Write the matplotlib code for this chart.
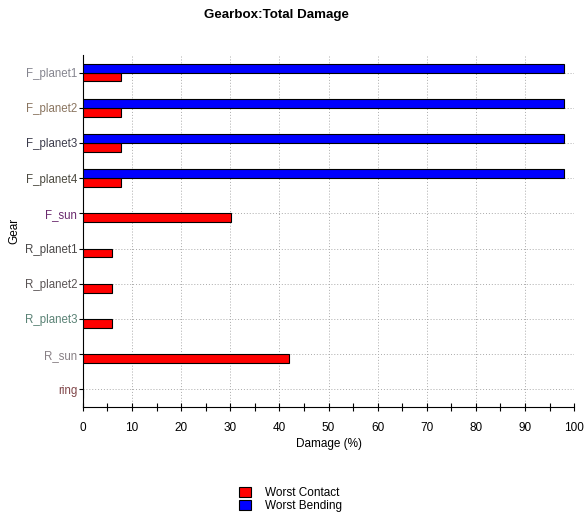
import matplotlib

matplotlib.use("Agg")
import matplotlib.pyplot as plt
from matplotlib.patches import Patch
from matplotlib.ticker import MultipleLocator

gears = ["F_planet1", "F_planet2", "F_planet3", "F_planet4", "F_sun",
         "R_planet1", "R_planet2", "R_planet3", "R_sun", "ring"]
worst_contact = [7.8, 7.8, 7.8, 7.8, 30.2, 5.9, 5.9, 5.9, 42.0, 0.0]
worst_bending = [98.0, 98.0, 98.0, 98.0, 0.0, 0.0, 0.0, 0.0, 0.0, 0.0]
label_colors = ["#85858f", "#8a7560", "#3c3c4c", "#4c4a40", "#6a2a6e",
                "#4a4848", "#5a5455", "#5a8275", "#888085", "#804548"]

plt.rcParams["font.family"] = ["Liberation Sans", "DejaVu Sans"]

fig = plt.figure(figsize=(5.84, 5.2), dpi=100)
ax = fig.add_axes([0.142, 0.2173, 0.841, 0.677])

pos = list(range(len(gears)))
bar_h = 0.25
ax.barh(pos, worst_contact, height=bar_h, align="edge", color="#ff0000",
        edgecolor="black", linewidth=0.8, zorder=3)
for y, v in zip(pos, worst_bending):
    if v > 0:
        ax.barh(y, v, height=-bar_h, align="edge", color="#0000ff",
                edgecolor="black", linewidth=0.8, zorder=3)

ax.set_xlim(0, 100)
ax.set_ylim(len(gears) - 0.5, -0.5)
ax.set_yticks(pos)
ax.set_yticklabels(gears, fontsize=8.3)
for lbl, c in zip(ax.get_yticklabels(), label_colors):
    lbl.set_color(c)

ax.xaxis.set_major_locator(MultipleLocator(10))
ax.xaxis.set_minor_locator(MultipleLocator(5))
ax.tick_params(axis="x", which="both", direction="inout", length=6,
               width=0.8, labelsize=8.5, pad=8)
ax.tick_params(axis="y", direction="out", length=3, width=0.8, pad=1)

ax.grid(True, which="major", color="#aaaaaa", linestyle=(0, (1, 2)),
        linewidth=0.7, zorder=0)
ax.set_axisbelow(True)

for side in ("top", "right"):
    ax.spines[side].set_visible(False)
ax.spines["left"].set_linewidth(0.8)
ax.spines["bottom"].set_linewidth(0.8)

ax.set_xlabel("Damage (%)", fontsize=8.5, labelpad=3)
ax.set_ylabel("Gear", fontsize=8.5)
ax.yaxis.set_label_coords(-0.128, 0.5)

fig.text(0.473, 0.971, "Gearbox:Total Damage", fontsize=9.6,
         fontweight="bold", ha="center", va="center")

handles = [Patch(facecolor="#ff0000", edgecolor="black", linewidth=0.8),
           Patch(facecolor="#0000ff", edgecolor="black", linewidth=0.8)]
fig.legend(handles, ["Worst Contact", "Worst Bending"], loc="center",
           bbox_to_anchor=(0.497, 0.039), frameon=False, fontsize=8.5,
           handlelength=1.0, handleheight=0.9, labelspacing=0.05,
           handletextpad=1.2)

fig.savefig("out.png", dpi=100)
plt.close(fig)
